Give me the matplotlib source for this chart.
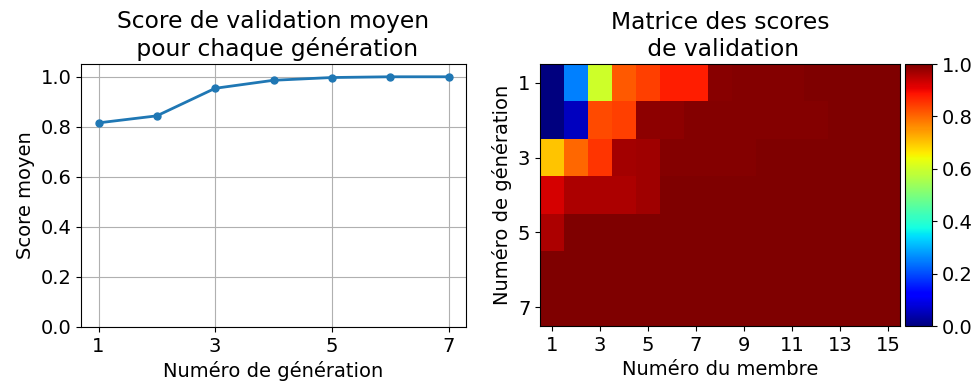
import matplotlib
matplotlib.use('Agg')
import numpy as np
import matplotlib.pyplot as plt

plt.rcParams['font.size'] = 14

# generations / members
generations = [1, 2, 3, 4, 5, 6, 7]
members = list(range(1, 16))

# mean validation score per generation
mean_scores = [0.815, 0.843, 0.953, 0.985, 0.996, 0.999, 0.999]

# validation score of each member, one row per generation
gen1 = [0.00, 0.25, 0.60, 0.815, 0.84, 0.875, 0.875, 0.99, 0.995, 0.996, 0.996, 0.997, 0.997, 0.998, 0.998]
gen2 = [0.00, 0.055, 0.83, 0.84, 0.985, 0.985, 0.993, 0.994, 0.995, 0.995, 0.996, 0.996, 0.997, 0.997, 0.998]
gen3 = [0.70, 0.80, 0.855, 0.967, 0.97, 0.995, 0.995, 0.996, 0.996, 0.997, 0.997, 0.997, 0.998, 0.998, 0.998]
gen4 = [0.923, 0.96, 0.96, 0.96, 0.97, 0.997, 0.997, 0.998, 0.998, 0.998, 0.998, 0.999, 0.999, 0.999, 0.999]
gen5 = [0.96, 0.999, 0.999, 0.999, 0.999, 0.999, 0.999, 0.999, 0.999, 0.999, 0.999, 0.999, 1.0, 1.0, 1.0]
gen6 = [1.0] * 15
gen7 = [1.0] * 15
scores = np.array([gen1, gen2, gen3, gen4, gen5, gen6, gen7])

fig = plt.figure(figsize=(9.74, 3.89), dpi=100)

# left: mean score
ax1 = fig.add_axes([81 / 974, 62 / 389, 385 / 974, 263 / 389])
ax1.plot(generations, mean_scores, marker='o', markersize=5, linewidth=2, color='tab:blue')
ax1.set_ylim(0, 1.05)
ax1.set_xticks([1, 3, 5, 7])
ax1.set_yticks([0.0, 0.2, 0.4, 0.6, 0.8, 1.0])
ax1.grid(True)
ax1.set_xlabel('Numéro de génération')
ax1.set_ylabel('Score moyen')
ax1.set_title('Score de validation moyen\n pour chaque génération')

# right: score matrix
ax2 = fig.add_axes([540 / 974, 63 / 389, 360 / 974, 262 / 389])
im = ax2.imshow(scores, cmap='jet', vmin=0, vmax=1, aspect='auto')
ax2.set_xticks(np.arange(0, 15, 2))
ax2.set_xticklabels(members[::2])
ax2.set_yticks(np.arange(0, 7, 2))
ax2.set_yticklabels(generations[::2])
ax2.set_xlabel('Numéro du membre')
ax2.set_ylabel('Numéro de génération')
ax2.set_title('Matrice des scores\n de validation')

cax = fig.add_axes([905 / 974, 63 / 389, 27 / 974, 262 / 389])
cb = fig.colorbar(im, cax=cax)
cb.set_ticks([0.0, 0.2, 0.4, 0.6, 0.8, 1.0])

fig.savefig('out.png', dpi=100)
